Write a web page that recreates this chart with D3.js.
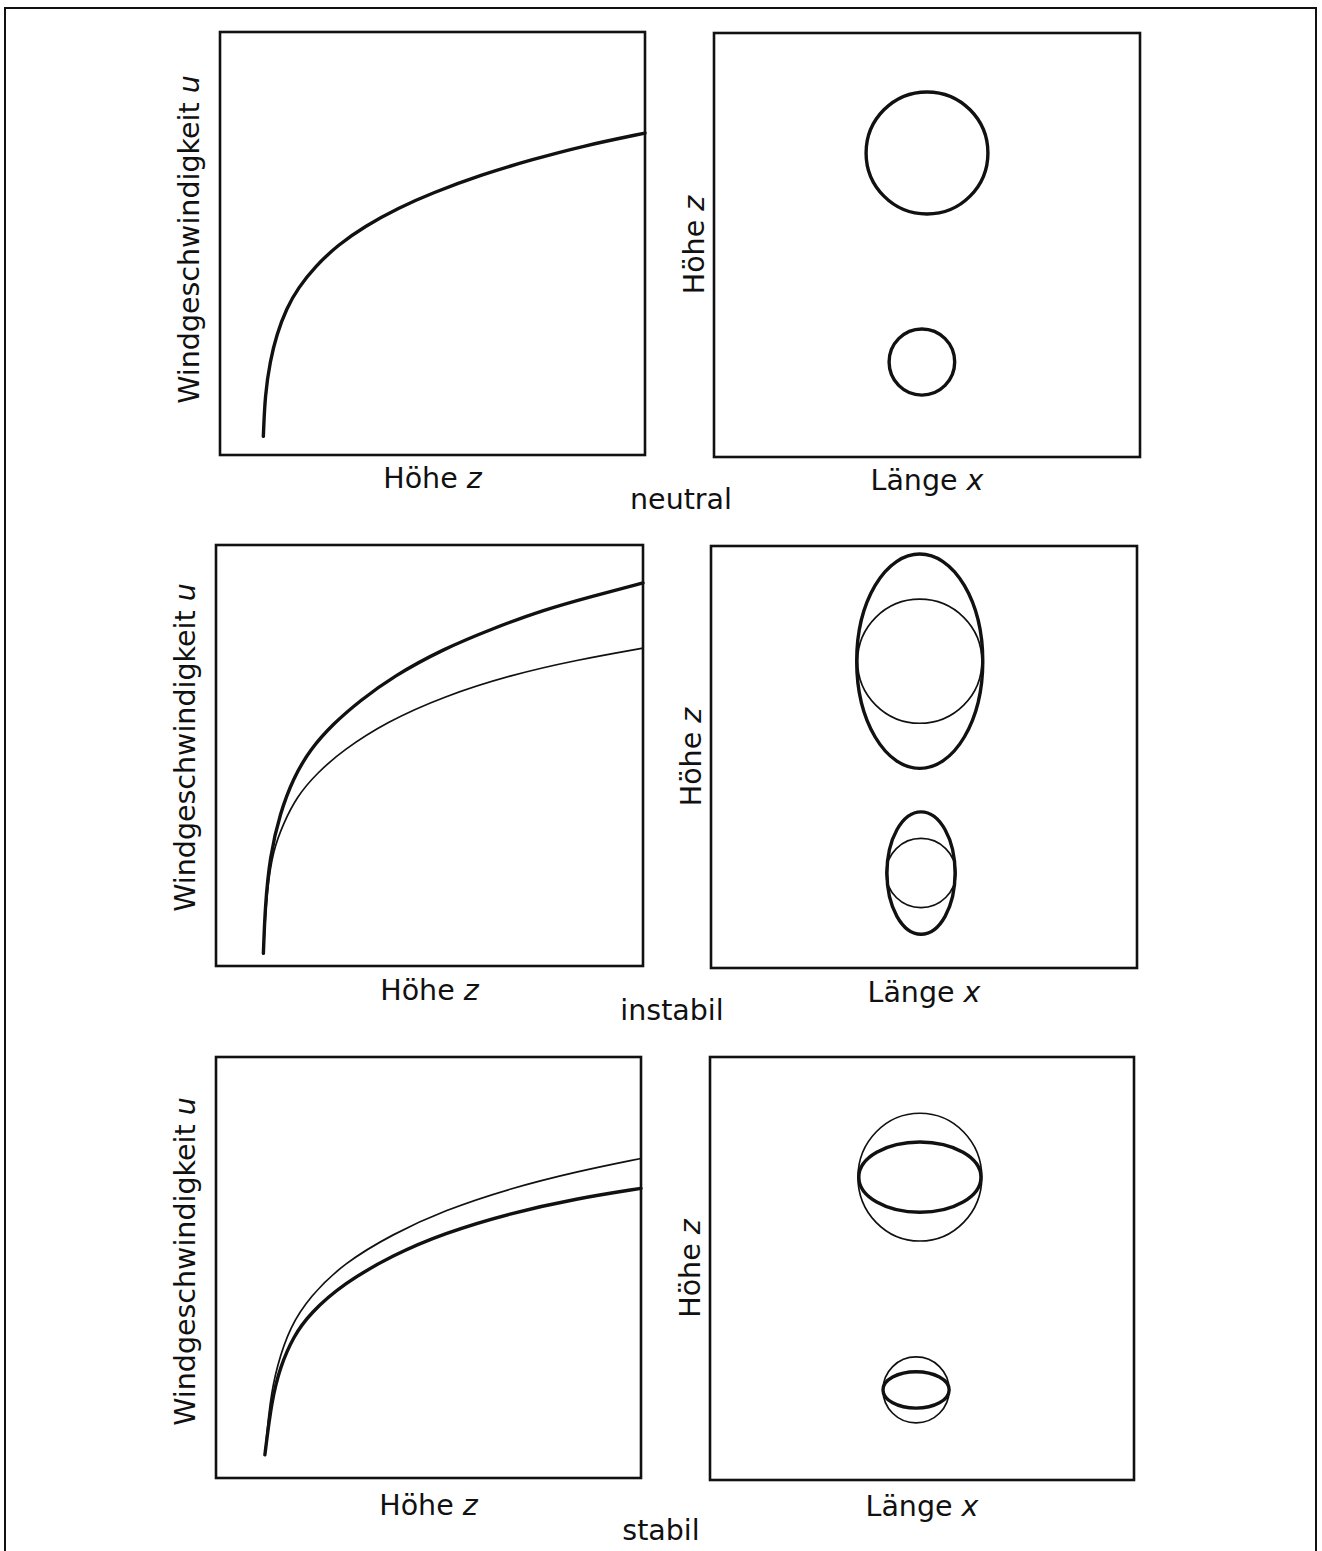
<!DOCTYPE html>
<html><head><meta charset="utf-8">
<script src="https://cdn.jsdelivr.net/npm/d3@7"></script>
<style>html,body{margin:0;padding:0;background:#fff;}svg{display:block;}</style>
</head><body>
<svg id="chart" width="1322" height="1551"></svg>
<script>
// ---------- data (axes 0..100 arbitrary units) ----------
const stabilityClasses = ["neutral", "instabil", "stabil"];
const xAxisLeft = "Höhe z";
const yAxisLeft = "Windgeschwindigkeit u";
const xAxisRight = "Länge x";
const yAxisRight = "Höhe z";

// wind profiles: height z (x-axis) vs wind speed u (y-axis)
const neutralZ = [10.2, 10.6, 11.8, 13.3, 15.7, 18.4, 22.4, 27.8, 34.1, 42.0, 49.8, 61.6, 73.3, 85.1, 100];
const neutralU = [4.4, 14.3, 22.2, 28.4, 34.8, 39.5, 44.6, 49.7, 54.1, 58.4, 61.9, 66.3, 69.8, 73.0, 76.1];

const instabilZ = [11.1, 11.5, 12.6, 15.0, 18.1, 22.0, 27.5, 33.7, 41.5, 53.2, 64.9, 76.7, 88.4, 100];
const instabilU = [3.0, 14.1, 26.0, 36.3, 44.6, 51.4, 57.6, 63.0, 68.8, 75.3, 80.2, 84.6, 87.9, 91.0];
const instabilRefZ = [11.1, 11.9, 13.4, 15.8, 18.9, 23.6, 29.8, 40.0, 53.2, 68.9, 84.5, 100];
const instabilRefU = [3.0, 18.1, 27.6, 33.9, 40.2, 45.8, 51.3, 58.0, 64.0, 69.1, 72.7, 75.5];

const stabilRefZ = [11.5, 12.7, 14.3, 17.4, 22.1, 30.0, 41.7, 53.5, 69.2, 84.9, 100];
const stabilRefU = [5.5, 18.5, 26.5, 35.9, 43.1, 51.0, 58.0, 63.5, 68.8, 72.8, 75.9];
const stabilZ = [11.5, 13.1, 15.1, 18.2, 22.1, 30.0, 41.7, 53.5, 69.2, 84.9, 100];
const stabilU = [5.5, 18.5, 26.4, 33.6, 39.1, 46.2, 53.0, 58.1, 62.9, 66.4, 68.8];

// plume cross-sections: centre x, centre z, half-width, half-height (0..100 units)
const neutralPlumeX  = [50.0, 48.8];
const neutralPlumeZ  = [71.7, 22.4];
const neutralPlumeRx = [14.3, 7.7];
const neutralPlumeRz = [14.4, 7.8];

const instabilPlumeX  = [49.0, 49.3];
const instabilPlumeZ  = [72.7, 22.5];
const instabilPlumeRx = [14.8, 8.0];
const instabilPlumeRz = [25.4, 14.5];
const instabilRefRx   = [14.6, 8.2];
const instabilRefRz   = [14.7, 8.2];

const stabilPlumeX  = [49.5, 48.6];
const stabilPlumeZ  = [71.6, 21.3];
const stabilPlumeRx = [14.4, 7.8];
const stabilPlumeRz = [8.3, 4.3];
const stabilRefRx   = [14.6, 7.8];
const stabilRefRz   = [15.1, 7.8];

// ---------- layout ----------
const rows = [
  { left: {x:220, y:32, w:425, h:423}, right: {x:714, y:33, w:426, h:424}, capY: 509, capX: 681, labDy: 33, labDyR: 33, yLabDy: -4,
    curves: [{z: neutralZ, u: neutralU, thick: true}],
    plumes: [{cx: neutralPlumeX, cz: neutralPlumeZ, rx: neutralPlumeRx, rz: neutralPlumeRz, thick: true}] },
  { left: {x:216, y:545, w:427, h:421}, right: {x:711, y:546, w:426, h:422}, capY: 1020, capX: 672, labDy: 34, labDyR: 34, yLabDy: -8,
    curves: [{z: instabilRefZ, u: instabilRefU, thick: false}, {z: instabilZ, u: instabilU, thick: true}],
    plumes: [{cx: instabilPlumeX, cz: instabilPlumeZ, rx: instabilRefRx, rz: instabilRefRz, thick: false},
             {cx: instabilPlumeX, cz: instabilPlumeZ, rx: instabilPlumeRx, rz: instabilPlumeRz, thick: true}] },
  { left: {x:216, y:1057, w:425, h:421}, right: {x:710, y:1057, w:424, h:423}, capY: 1540, capX: 661, labDy: 37, labDyR: 36, yLabDy: -6,
    curves: [{z: stabilRefZ, u: stabilRefU, thick: false}, {z: stabilZ, u: stabilU, thick: true}],
    plumes: [{cx: stabilPlumeX, cz: stabilPlumeZ, rx: stabilRefRx, rz: stabilRefRz, thick: false},
             {cx: stabilPlumeX, cz: stabilPlumeZ, rx: stabilPlumeRx, rz: stabilPlumeRz, thick: true}] }
];

const svg = d3.select("#chart");
const FONT = "'DejaVu Sans', sans-serif";
const FS = 28.5;
svg.append("rect").attr("width", 1322).attr("height", 1551).attr("fill", "#fff");
// outer frame
svg.append("path").attr("d", "M5,1560 L5,8 L1316,8 L1316,1560")
  .attr("fill", "none").attr("stroke", "#111").attr("stroke-width", 2);

function axisLabel(sel, text, x, y, rotate) {
  const parts = text.split(" ");
  const t = sel.append("text")
    .attr("transform", `translate(${x},${y})` + (rotate ? " rotate(-90)" : ""))
    .attr("text-anchor", "middle")
    .attr("font-family", FONT).attr("font-size", FS).attr("fill", "#111");
  t.append("tspan").text(parts[0] + " ");
  t.append("tspan").attr("font-style", "italic").text(parts[1]);
  return t;
}

rows.forEach((row, i) => {
  // ----- left: wind profile -----
  const L = row.left;
  const gx = d3.scaleLinear().domain([0, 100]).range([L.x, L.x + L.w]);
  const gy = d3.scaleLinear().domain([0, 100]).range([L.y + L.h, L.y]);
  const line = d3.line().x(d => gx(d[0])).y(d => gy(d[1])).curve(d3.curveBasis);
  row.curves.forEach(c => {
    svg.append("path")
      .datum(c.z.map((z, k) => [z, c.u[k]]))
      .attr("d", line)
      .attr("fill", "none").attr("stroke", "#111")
      .attr("stroke-width", c.thick ? 3.4 : 1.7)
      .attr("stroke-linecap", "round");
  });
  svg.append("rect").attr("x", L.x).attr("y", L.y).attr("width", L.w).attr("height", L.h)
    .attr("fill", "none").attr("stroke", "#111").attr("stroke-width", 2.6);
  axisLabel(svg, xAxisLeft, L.x + L.w / 2, L.y + L.h + row.labDy, false);
  axisLabel(svg, yAxisLeft, L.x - 21, L.y + L.h / 2 + row.yLabDy, true);

  // ----- right: plume cross-section -----
  const R = row.right;
  const px = d3.scaleLinear().domain([0, 100]).range([R.x, R.x + R.w]);
  const pz = d3.scaleLinear().domain([0, 100]).range([R.y + R.h, R.y]);
  row.plumes.forEach(p => {
    p.cx.forEach((cx, k) => {
      svg.append("ellipse")
        .attr("cx", px(cx)).attr("cy", pz(p.cz[k]))
        .attr("rx", px(p.rx[k]) - px(0))
        .attr("ry", pz(0) - pz(p.rz[k]))
        .attr("fill", "none").attr("stroke", "#111")
        .attr("stroke-width", p.thick ? 3.4 : 1.7);
    });
  });
  svg.append("rect").attr("x", R.x).attr("y", R.y).attr("width", R.w).attr("height", R.h)
    .attr("fill", "none").attr("stroke", "#111").attr("stroke-width", 2.6);
  axisLabel(svg, xAxisRight, R.x + R.w / 2, R.y + R.h + row.labDyR, false);
  axisLabel(svg, yAxisRight, R.x - 10, R.y + R.h / 2, true);

  // caption
  svg.append("text").attr("x", row.capX).attr("y", row.capY)
    .attr("text-anchor", "middle").attr("font-family", FONT).attr("font-size", FS)
    .attr("fill", "#111").text(stabilityClasses[i]);
});
</script>
</body></html>
